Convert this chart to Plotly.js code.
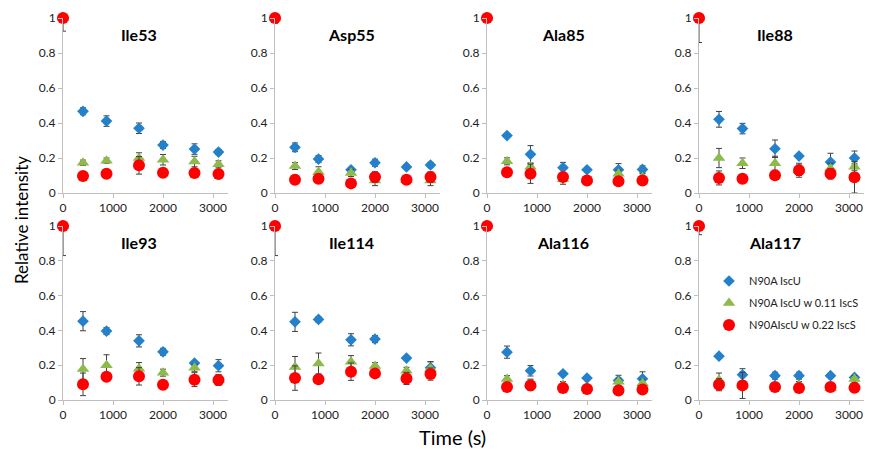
<!DOCTYPE html>
<html><head><meta charset="utf-8">
<script src="https://cdn.plot.ly/plotly-3.0.1.min.js"></script>
<style>html,body{margin:0;padding:0;background:#fff}#chart{width:871px;height:449px}</style>
</head><body><div id="chart"></div>
<script>
// ---- data ----
const times = [0, 400, 870, 1520, 2000, 2630, 3110];
const residues = ['Ile53','Asp55','Ala85','Ile88','Ile93','Ile114','Ala116','Ala117'];
const seriesNames = ['N90A IscU', 'N90A IscU w 0.11 IscS', 'N90AIscU w 0.22 IscS'];

const blueVals = [
  [1, 0.467, 0.411, 0.37, 0.274, 0.251, 0.234],
  [1, 0.261, 0.194, 0.133, 0.173, 0.149, 0.16],
  [1, 0.328, 0.221, 0.145, 0.133, 0.133, 0.135],
  [1, 0.421, 0.368, 0.253, 0.211, 0.177, 0.2],
  [1, 0.453, 0.396, 0.34, 0.277, 0.212, 0.197],
  [1, 0.449, 0.463, 0.346, 0.35, 0.241, 0.185],
  [1, 0.275, 0.168, 0.151, 0.126, 0.112, 0.122],
  [1, 0.252, 0.145, 0.14, 0.14, 0.14, 0.13]
];
const blueErr = [
  [0.075, 0.02, 0.03, 0.03, 0.02, 0.03, 0.015],
  [0.03, 0.025, 0.02, 0.01, 0.02, 0.01, 0.015],
  [0.01, 0.01, 0.05, 0.03, 0.01, 0.035, 0.02],
  [0.14, 0.045, 0.03, 0.05, 0.01, 0.05, 0.04],
  [0.17, 0.055, 0.02, 0.035, 0.02, 0.01, 0.035],
  [0.17, 0.055, 0.015, 0.035, 0.02, 0.01, 0.035],
  [0.01, 0.035, 0.03, 0.01, 0.01, 0.03, 0.04],
  [0.05, 0.01, 0.035, 0.02, 0.02, 0.01, 0.01]
];
const greenVals = [
  [1, 0.173, 0.185, 0.2, 0.19, 0.18, 0.164],
  [1, 0.154, 0.12, 0.114, 0.072, 0.075, 0.072],
  [1, 0.181, 0.15, 0.08, 0.075, 0.11, 0.09],
  [1, 0.2, 0.17, 0.17, 0.13, 0.14, 0.15],
  [1, 0.178, 0.2, 0.18, 0.157, 0.185, 0.115],
  [1, 0.19, 0.21, 0.22, 0.195, 0.168, 0.18],
  [1, 0.12, 0.09, 0.086, 0.067, 0.105, 0.096],
  [1, 0.115, 0.086, 0.075, 0.086, 0.067, 0.12]
];
const greenErr = [
  [0.02, 0.015, 0.015, 0.03, 0.03, 0.03, 0.02],
  [0.01, 0.02, 0.03, 0.02, 0.03, 0.01, 0.03],
  [0.01, 0.02, 0.02, 0.03, 0.01, 0.02, 0.02],
  [0.01, 0.055, 0.03, 0.04, 0.03, 0.03, 0.02],
  [0.01, 0.06, 0.06, 0.035, 0.02, 0.02, 0.03],
  [0.01, 0.06, 0.06, 0.035, 0.02, 0.02, 0.04],
  [0.01, 0.02, 0.03, 0.02, 0.02, 0.02, 0.02],
  [0.01, 0.04, 0.02, 0.02, 0.02, 0.01, 0.02]
];
const redVals = [
  [1, 0.097, 0.11, 0.158, 0.116, 0.114, 0.108],
  [1, 0.076, 0.082, 0.055, 0.091, 0.076, 0.091],
  [1, 0.118, 0.11, 0.091, 0.072, 0.067, 0.072],
  [1, 0.086, 0.082, 0.101, 0.13, 0.11, 0.09],
  [1, 0.09, 0.134, 0.136, 0.088, 0.117, 0.115],
  [1, 0.126, 0.119, 0.163, 0.153, 0.124, 0.149],
  [1, 0.075, 0.084, 0.069, 0.063, 0.054, 0.061],
  [1, 0.088, 0.084, 0.075, 0.069, 0.075, 0.071]
];
const redErr = [
  [0.01, 0.02, 0.02, 0.05, 0.02, 0.025, 0.01],
  [0.01, 0.025, 0.02, 0.01, 0.03, 0.01, 0.03],
  [0.01, 0.01, 0.055, 0.02, 0.01, 0.01, 0.01],
  [0.01, 0.04, 0.01, 0.02, 0.04, 0.03, 0.09],
  [0.01, 0.065, 0.02, 0.05, 0.01, 0.04, 0.03],
  [0.01, 0.07, 0.02, 0.05, 0.02, 0.035, 0.035],
  [0.01, 0.01, 0.03, 0.01, 0.02, 0.01, 0.01],
  [0.01, 0.035, 0.075, 0.015, 0.01, 0.01, 0.01]
];
const xTicks = [0, 1000, 2000, 3000];
const yTicks = [0, 0.2, 0.4, 0.6, 0.8, 1];

// ---- styling ----
const W = 871, H = 449;
const FONT = 'Lato, "Open Sans", sans-serif';
const axisLeftPx = [63, 275, 487, 699];
const plotWpx = 165;
const rowPx = [[18, 193], [226, 400]]; // top(y=1), bottom(y=0)
const styles = [
  {color: '#2381CC', symbol: 'diamond', size: 9},
  {color: '#8DBA4B', symbol: 'triangle-up', size: 11},
  {color: '#FF0000', symbol: 'circle', size: 12}
];
const allVals = [blueVals, greenVals, redVals];
const allErr = [blueErr, greenErr, redErr];

const traces = [];
const layout = {
  width: W, height: H,
  margin: {l: 0, r: 0, t: 0, b: 0, pad: 0, autoexpand: false},
  paper_bgcolor: '#fff', plot_bgcolor: 'rgba(0,0,0,0)',
  font: {family: FONT, color: '#222', size: 12},
  annotations: [],
  showlegend: true
};

residues.forEach((name, i) => {
  const row = Math.floor(i / 4), col = i % 4;
  const idx = i === 0 ? '' : String(i + 1);
  const xa = 'xaxis' + idx, ya = 'yaxis' + idx;
  const x0 = axisLeftPx[col];
  layout[xa] = {
    domain: [x0 / W, (x0 + plotWpx) / W],
    anchor: 'y' + idx,
    range: [0, 3300],
    tickvals: xTicks, ticktext: xTicks.map(String),
    showgrid: false, zeroline: false,
    showline: true, linecolor: '#BFBFBF', linewidth: 1,
    ticks: 'outside', ticklen: 4, tickcolor: '#BFBFBF',
    tickfont: {family: FONT, size: 12, color: '#222'}
  };
  layout[ya] = {
    domain: [(H - rowPx[row][1]) / H, (H - rowPx[row][0]) / H],
    anchor: 'x' + idx,
    range: [0, 1],
    tickvals: yTicks, ticktext: yTicks.map(String),
    showgrid: false, zeroline: false,
    showline: true, linecolor: '#BFBFBF', linewidth: 1,
    ticks: 'outside', ticklen: 4, tickcolor: '#BFBFBF',
    tickfont: {family: FONT, size: 12, color: '#222'}
  };
  for (let s = 0; s < 3; s++) {
    const y = allVals[s][i], e = allErr[s][i];
    traces.push({
      type: 'scatter', mode: 'markers',
      x: times, y: y,
      xaxis: 'x' + idx, yaxis: 'y' + idx,
      name: seriesNames[s],
      legend: s === 0 ? 'legend' : 'legend' + (s + 1),
      showlegend: i === 7,
      cliponaxis: false,
      marker: {color: styles[s].color, symbol: styles[s].symbol, size: styles[s].size, line: {width: 0}},
      error_y: {
        type: 'data', symmetric: false,
        array: e.map((v, k) => Math.min(v, 1 - y[k])),
        arrayminus: e,
        color: '#404040', thickness: 1, width: 3
      }
    });
  }
  layout.annotations.push({
    xref: 'x' + idx, yref: 'y' + idx, x: 1520, y: 0.905,
    text: '<b>' + name + '</b>', showarrow: false,
    font: {family: FONT, size: 16, color: '#000'},
    xanchor: 'center', yanchor: 'middle'
  });
});

layout.annotations.push({
  xref: 'paper', yref: 'paper', x: 22 / W, y: 1 - 220 / H,
  text: 'Relative intensity', textangle: -90, showarrow: false,
  font: {family: FONT, size: 17, color: '#000'}, xanchor: 'center', yanchor: 'middle'
});
layout.annotations.push({
  xref: 'paper', yref: 'paper', x: 452 / W, y: 1 - 437 / H,
  text: 'Time (s)', showarrow: false,
  font: {family: FONT, size: 20, color: '#000'}, xanchor: 'center', yanchor: 'middle'
});

const legendYs = [281, 303, 325];
['legend', 'legend2', 'legend3'].forEach((lg, k) => {
  layout[lg] = {
    x: 709 / W, y: 1 - legendYs[k] / H, xanchor: 'left', yanchor: 'middle',
    bgcolor: 'rgba(0,0,0,0)', borderwidth: 0,
    font: {family: FONT, size: 11, color: '#222'}
  };
});

Plotly.newPlot('chart', traces, layout, {displayModeBar: false, staticPlot: true});
</script>
</body></html>
